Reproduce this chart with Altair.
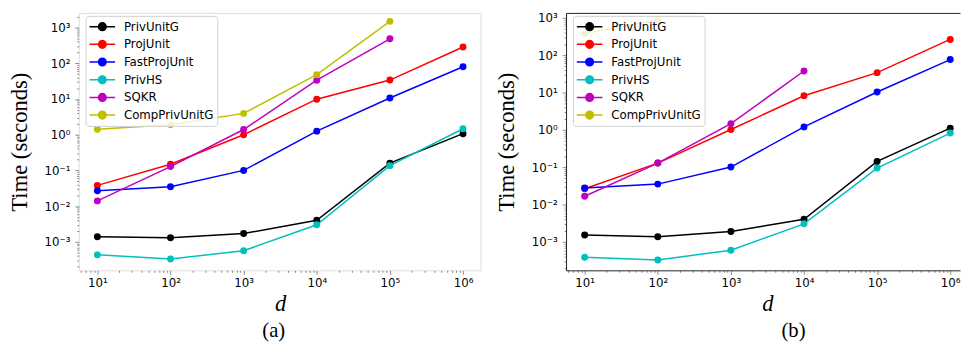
import altair as alt
import pandas as pd

# ---------------- data ----------------
D_VALUES = [10, 100, 1000, 10000, 100000, 1000000]
SERIES = ["PrivUnitG", "ProjUnit", "FastProjUnit", "PrivHS", "SQKR", "CompPrivUnitG"]
COLORS = ["#000000", "#ff0000", "#0000ff", "#00bfbf", "#bf00bf", "#bfbf00"]

# panel (a)
A_PRIVUNITG = [0.00138, 0.00129, 0.0017, 0.004, 0.16, 1.07]
A_PROJUNIT = [0.038, 0.149, 1.0, 9.9, 34, 287]
A_FASTPROJUNIT = [0.027, 0.035, 0.10, 1.26, 10.7, 80]
A_PRIVHS = [0.00043, 0.00033, 0.00056, 0.003, 0.136, 1.47]
A_SQKR = [0.014, 0.128, 1.4, 33.7, 487]
A_COMPPRIVUNITG = [1.43, 1.89, 3.96, 48, 1500]

# panel (b)
B_PRIVUNITG = [0.00153, 0.00138, 0.0019, 0.00405, 0.143, 1.11]
B_PROJUNIT = [0.0266, 0.129, 1.02, 8.2, 34, 263]
B_FASTPROJUNIT = [0.0277, 0.0353, 0.101, 1.2, 10.3, 76]
B_PRIVHS = [0.00039, 0.00033, 0.0006, 0.00305, 0.095, 0.82]
B_SQKR = [0.0167, 0.129, 1.47, 37.6]
B_COMPPRIVUNITG = [380, 870]

X_MAJOR = [10, 100, 1000, 10000, 100000, 1000000]
X_MAJOR_LABELS = ["10¹", "10²", "10³", "10⁴", "10⁵", "10⁶"]
Y_MAJOR = [0.001, 0.01, 0.1, 1, 10, 100, 1000]
Y_MAJOR_LABELS = ["10⁻³", "10⁻²", "10⁻¹", "10⁰", "10¹", "10²", "10³"]

FRAME = "#222222"


def minor_ticks(lo_exp, hi_exp, lo, hi):
    vals = []
    for e in range(lo_exp, hi_exp + 1):
        for m in range(1, 10):
            v = float(f"{m}e{e}")
            if lo <= v <= hi:
                vals.append(v)
    return vals


def frame(series_values):
    rows = []
    for name, vals in zip(SERIES, series_values):
        for d, t in zip(D_VALUES, vals):
            rows.append({"d": d, "time": t, "method": name})
    return pd.DataFrame(rows)


def label_expr(values, labels):
    expr = "''"
    for v, l in reversed(list(zip(values, labels))):
        expr = f"datum.value == {v} ? '{l}' : ({expr})"
    return expr


def major_test(values):
    return "indexof([" + ",".join(str(v) for v in values) + "], datum.value) >= 0"


def color_expr():
    expr = "'black'"
    for s, c in reversed(list(zip(SERIES, COLORS))):
        expr = f"datum.value == '{s}' ? '{c}' : ({expr})"
    return expr


LEGEND_SYMBOL = "M-1,0L1,0M-0.3,0A0.3,0.3,0,1,1,0.3,0A0.3,0.3,0,1,1,-0.3,0Z"


def panel(df, xdom, ydom, width, tag, tag_dx, open_right):
    xticks = minor_ticks(0, 6, xdom[0], xdom[1])
    yticks = minor_ticks(-4, 3, ydom[0], ydom[1])
    xscale = alt.Scale(type="log", domain=xdom, nice=False)
    x_axis = alt.Axis(
        values=xticks,
        grid=False,
        domain=open_right,
        domainColor=FRAME,
        labelExpr=label_expr(X_MAJOR, X_MAJOR_LABELS),
        tickSize={"condition": {"test": major_test(X_MAJOR), "value": 4}, "value": 2},
        labelFont="DejaVu Sans",
        labelFontSize=12,
        labelPadding=3,
        minExtent=20,
        maxExtent=20,
        title="d",
        titleFont="Liberation Serif",
        titleFontStyle="italic",
        titleFontWeight="normal",
        titleFontSize=23,
        titlePadding=3,
        titleX=205,
    )
    y = alt.Y(
        "time:Q",
        scale=alt.Scale(type="log", domain=ydom, nice=False),
        axis=alt.Axis(
            values=yticks,
            grid=False,
            domain=open_right,
            domainColor=FRAME,
            labelExpr=label_expr(Y_MAJOR, Y_MAJOR_LABELS),
            tickSize={"condition": {"test": major_test(Y_MAJOR), "value": 4}, "value": 2},
            labelFont="DejaVu Sans",
            labelFontSize=12,
            labelPadding=5,
            minExtent=37,
            maxExtent=37,
            title="Time (seconds)",
            titleFont="Liberation Serif",
            titleFontWeight="normal",
            titleFontSize=23,
            titlePadding=11,
        ),
    )
    cexpr = color_expr()
    leg = alt.Legend(
        title=None,
        orient="none",
        legendX=7,
        legendY=3,
        symbolType=LEGEND_SYMBOL,
        symbolSize=676,
        symbolStrokeWidth=1.5,
        symbolFillColor=alt.ExprRef(cexpr),
        symbolStrokeColor=alt.ExprRef(cexpr),
        labelFont="DejaVu Sans",
        labelFontSize=12,
        labelColor="black",
        labelOffset=8,
        fillColor="rgba(255,255,255,0.8)",
        strokeColor="#d0d0d0",
        cornerRadius=3,
        padding=3,
        clipHeight=16,
        rowPadding=2,
    )
    sc = alt.Scale(domain=SERIES, range=COLORS)
    base = alt.Chart(df)
    lines = base.mark_line(strokeWidth=1.5).encode(
        x=alt.X("d:Q", scale=xscale, axis=x_axis),
        y=y,
        stroke=alt.Stroke("method:N", scale=sc, legend=leg),
    )
    if open_right:
        pts_axis = alt.Axis(orient="top", domain=True, domainColor=FRAME, ticks=False,
                            labels=False, grid=False, title=None)
    else:
        pts_axis = x_axis
    pts = base.mark_circle(size=50, opacity=1).encode(
        x=alt.X("d:Q", scale=xscale, axis=pts_axis),
        y=y,
        fill=alt.Fill("method:N", scale=sc, legend=None),
    )
    ch = alt.layer(lines, pts).properties(
        width=width,
        height=262,
        title=alt.TitleParams(tag, orient="bottom", font="Liberation Serif", fontSize=21,
                              fontWeight="normal", color="black", offset=5,
                              frame="group", anchor="middle", dx=tag_dx),
    )
    if open_right:
        ch = ch.resolve_axis(x="independent").properties(view=alt.ViewBackground(stroke="transparent"))
    return ch


df_a = frame([A_PRIVUNITG, A_PROJUNIT, A_FASTPROJUNIT, A_PRIVHS, A_SQKR, A_COMPPRIVUNITG])
df_b = frame([B_PRIVUNITG, B_PROJUNIT, B_FASTPROJUNIT, B_PRIVHS, B_SQKR, B_COMPPRIVUNITG])

pa = panel(df_a, [10 ** 0.745, 10 ** 6.24], [10 ** -3.8, 10 ** 3.413], 409, "(a)", -6, False)
pb = panel(df_b, [10 ** 0.745, 10 ** 6.134], [10 ** -3.76, 10 ** 3.13], 401, "(b)", 31, True)

chart = (
    alt.hconcat(pa, pb, spacing=14)
    .resolve_scale(fill="independent", stroke="independent")
    .configure_view(stroke=FRAME, strokeWidth=1)
    .configure_axis(
        grid=False,
        tickColor="black",
        labelColor="black",
        titleColor="black",
    )
    .configure(padding={"left": 0, "top": 0, "right": 0, "bottom": 0})
)

chart.save("out.html", embed_options={"renderer": "svg", "actions": False})
